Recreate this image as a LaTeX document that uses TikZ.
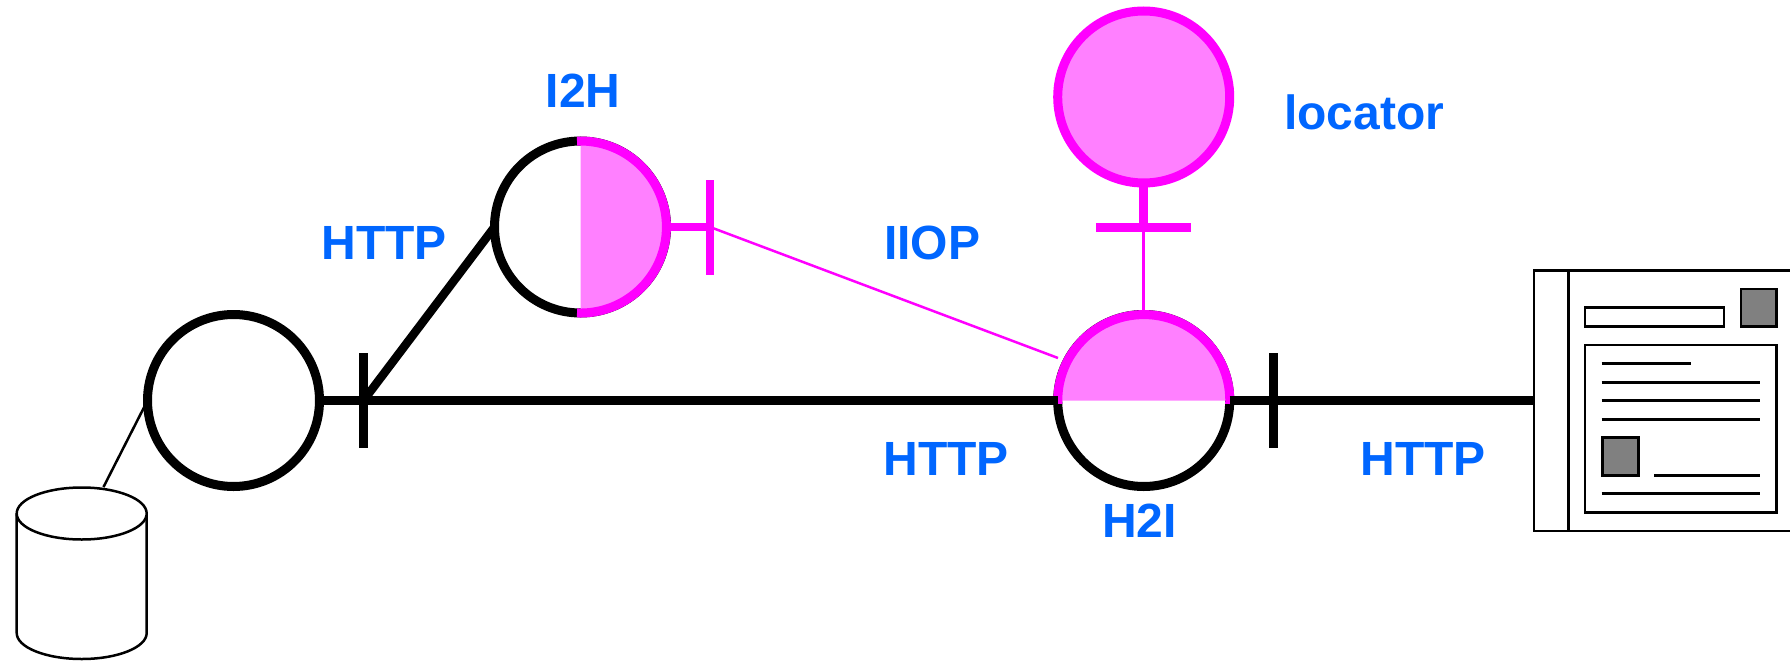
\documentclass[tikz,border=0pt]{standalone}
\usepackage{fontspec}
\setmainfont{Liberation Sans}
\definecolor{lblblue}{HTML}{0066FF}
\definecolor{iiopline}{HTML}{FF00FF}
\definecolor{iiopfill}{HTML}{FF80FF}
\tikzset{
  hub/.style={draw,circle,fill=white,line width=9pt,minimum size=172pt,inner sep=0pt,outer sep=0pt},
  vtick/.style={fill,minimum width=8.5pt,minimum height=95pt,inner sep=0pt,outer sep=0pt},
  htick/.style={fill,minimum width=95pt,minimum height=8.5pt,inner sep=0pt,outer sep=0pt},
  lbl/.style={text=lblblue,font=\fontsize{48}{58}\selectfont\bfseries,inner sep=0pt},
  fat/.style={line width=8.5pt},
  slim/.style={line width=2.5pt},
}
\begin{document}
\begin{tikzpicture}[x=1pt,y=-1pt]
\useasboundingbox (0,0) rectangle (1790,661);
% hubs
\node[hub] (web) at (233.5,400.5) {};
\node[hub] (i2h) at (580.5,227) {};
\node[hub] (h2i) at (1143.7,400.5) {};
\node[hub,draw=iiopline,fill=iiopfill] (loc) at (1143.7,97) {};
\node[vtick] (tickA) at (363.5,400.5) {};
\node[vtick] (tickC) at (1273.7,400.5) {};
\node[vtick,iiopline] (tickB) at (710,227) {};
\node[htick,iiopline] (tickD) at (1143.7,227.5) {};
\coordinate (browser) at (1533,400.5);
\coordinate (dbTop) at (103.5,487);
\coordinate (iiopEnd) at (1058,358);
% half fillings
\fill[iiopfill] (580.5,141) arc[start angle=90,end angle=-90,radius=86pt] -- cycle;
\draw[line width=9pt,iiopline] (577,141.1) arc[start angle=92.3,end angle=-92.3,radius=86pt];
\fill[iiopfill] (h2i.west) arc[start angle=180,end angle=0,radius=86pt] -- cycle;
\draw[line width=9pt,iiopline] (h2i.east) ++(0,3.5) arc[start angle=-2.3,end angle=182.3,radius=86pt];
% connectors
\draw[slim] (web.west) -- (dbTop);
\draw[fat] (web.east) -- (tickA.center);
\draw[fat] (tickA.center) -- (h2i.west);
\draw[fat] (h2i.east) -- (tickC.center);
\draw[fat] (tickC.center) -- (browser);
\draw[fat] (tickA.center) -- (i2h.west);
\draw[fat,iiopline] (i2h.east) -- (tickB.center);
\draw[slim,iiopline] (tickB.center) -- (iiopEnd);
\draw[fat,iiopline] (loc.south) -- (tickD.center);
\draw[slim,iiopline] (tickD.center) -- (h2i.north);
% database
\draw[slim,fill=white] (16.7,513.5) -- (16.7,633) arc[start angle=180,end angle=360,x radius=65pt,y radius=26pt] -- (146.7,513.5);
\draw[slim,fill=white] (81.7,513.5) ellipse[x radius=65pt,y radius=26pt];
% browser page
\draw[slim,fill=white] (1790,270.7) -- (1534,270.7) -- (1534,531) -- (1790,531);
\draw[slim] (1568.5,270.7) -- (1568.5,531);
\draw[slim] (1585,307.3) rectangle (1724,326.7);
\draw[slim,fill=gray] (1741,289) rectangle (1776.7,326.7);
\draw[slim] (1585,345) rectangle (1776.7,512.3);
\draw[slim] (1601.7,363.5) -- (1691,363.5);
\draw[slim] (1601.7,382.5) -- (1760,382.5);
\draw[slim] (1601.7,400.5) -- (1760,400.5);
\draw[slim] (1601.7,419.5) -- (1760,419.5);
\draw[slim,fill=gray] (1602.3,437.7) rectangle (1638.3,475.7);
\draw[slim] (1654,475.5) -- (1760,475.5);
\draw[slim] (1601.7,493.5) -- (1760,493.5);
% labels
\node[lbl] (lblI) at (583,91) {I2H};
\node[lbl] (lblA) at (384,242.5) {HTTP};
\node[lbl] (lblB) at (932,243) {IIOP};
\node[lbl] (lblC) at (1364,112) {locator};
\node[lbl] (lblD) at (946,459) {HTTP};
\node[lbl] (lblE) at (1423,459) {HTTP};
\node[lbl] (lblF) at (1139.5,521) {H2I};
\end{tikzpicture}
\end{document}
